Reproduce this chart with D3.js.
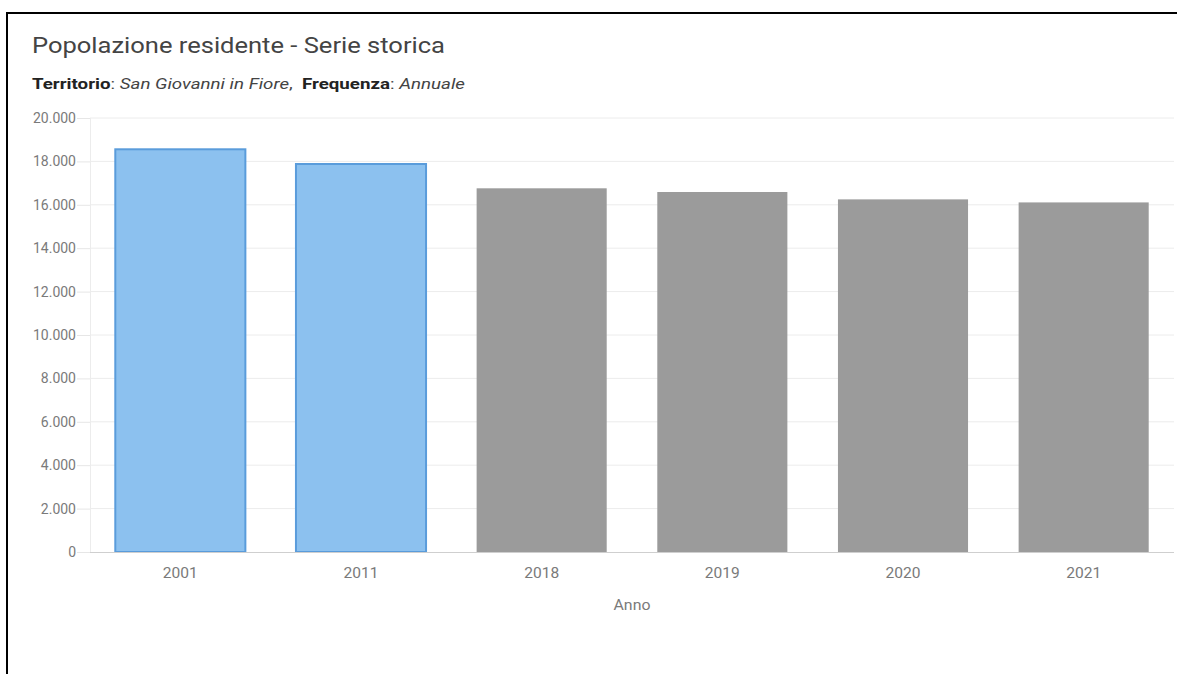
<!DOCTYPE html>
<html>
<head>
<meta charset="utf-8">
<script src="https://cdn.jsdelivr.net/npm/d3@7"></script>
<style>
  body { margin: 0; background: #fff; }
  svg { display: block; font-family: Roboto, "Noto Sans", sans-serif; }
</style>
</head>
<body>
<div id="grafico"></div>
<script>
// dati
var anni = ["2001", "2011", "2018", "2019", "2020", "2021"];
var popolazione = [18558, 17880, 16760, 16590, 16250, 16110];
var censimento = [true, true, false, false, false, false];
var tickValori = [0, 2000, 4000, 6000, 8000, 10000, 12000, 14000, 16000, 18000, 20000];

var width = 1177, height = 674;
var margine = { left: 90, right: 3, top: 118, bottom: 122 };

var svg = d3.select("#grafico").append("svg")
    .attr("width", width)
    .attr("height", height);

// cornice
svg.append("line").attr("x1", 6).attr("x2", width).attr("y1", 13).attr("y2", 13)
    .style("stroke", "#000").style("stroke-width", 2);
svg.append("line").attr("x1", 7).attr("x2", 7).attr("y1", 12).attr("y2", height)
    .style("stroke", "#000").style("stroke-width", 2);

// titolo
svg.append("text")
    .attr("x", 32).attr("y", 53)
    .attr("textLength", 413)
    .attr("lengthAdjust", "spacingAndGlyphs")
    .style("font-size", "22px")
    .style("fill", "#444")
    .text("Popolazione residente - Serie storica");

var sotto = svg.append("text")
    .attr("x", 32).attr("y", 89)
    .attr("textLength", 433)
    .attr("lengthAdjust", "spacingAndGlyphs")
    .style("font-size", "14px")
    .style("fill", "#444")
    .style("white-space", "pre");
sotto.append("tspan").style("font-weight", "bold").style("fill", "#222").text("Territorio");
sotto.append("tspan").text(": ");
sotto.append("tspan").style("font-style", "italic").text("San Giovanni in Fiore");
sotto.append("tspan").text(",  ");
sotto.append("tspan").style("font-weight", "bold").style("fill", "#222").text("Frequenza");
sotto.append("tspan").text(": ");
sotto.append("tspan").style("font-style", "italic").text("Annuale");

var x = d3.scaleBand()
    .domain(anni)
    .range([margine.left, width - margine.right])
    .paddingInner(0.28)
    .paddingOuter(0.14);

var y = d3.scaleLinear()
    .domain([0, 20000])
    .range([552, 118]);

var formato = d3.formatLocale({ decimal: ",", thousands: ".", grouping: [3], currency: ["€", ""] }).format(",d");

// griglia
svg.append("g").selectAll("line")
    .data(tickValori.slice(1))
    .enter().append("line")
    .attr("x1", margine.left)
    .attr("x2", width - margine.right)
    .attr("y1", function (d) { return y(d); })
    .attr("y2", function (d) { return y(d); })
    .style("stroke", "#ececec")
    .style("stroke-width", 1);

svg.append("line")
    .attr("x1", margine.left + 0.5).attr("x2", margine.left + 0.5)
    .attr("y1", y(20000)).attr("y2", y(0))
    .style("stroke", "#ececec");

// asse y
var assey = svg.append("g")
    .attr("transform", "translate(" + margine.left + ",0)")
    .call(d3.axisLeft(y).tickValues(tickValori).tickFormat(formato).tickSize(13).tickPadding(1));
assey.select(".domain").remove();
assey.selectAll(".tick line").style("stroke", "#e6e6e6");
assey.selectAll(".tick text")
    .style("font-size", "14px")
    .style("fill", "#7a7a7a")
    .style("font-family", "Roboto, sans-serif");

// barre
svg.append("g").selectAll("rect")
    .data(anni)
    .enter().append("rect")
    .attr("x", function (d) { return x(d); })
    .attr("y", function (d, i) { return y(popolazione[i]); })
    .attr("width", x.bandwidth())
    .attr("height", function (d, i) { return y(0) - y(popolazione[i]); })
    .style("fill", function (d, i) { return censimento[i] ? "#8cc1ef" : "#9b9b9b"; })
    .style("stroke", function (d, i) { return censimento[i] ? "#5a9cdb" : "none"; })
    .style("stroke-width", 2);

// linea base e asse x
svg.append("line")
    .attr("x1", margine.left).attr("x2", width - margine.right)
    .attr("y1", y(0) + 0.5).attr("y2", y(0) + 0.5)
    .style("stroke", "#cfcfcf");

var assex = svg.append("g")
    .attr("transform", "translate(0," + y(0) + ")")
    .call(d3.axisBottom(x).tickSize(0).tickPadding(15));
assex.select(".domain").remove();
assex.selectAll(".tick text")
    .attr("textLength", 35)
    .attr("lengthAdjust", "spacingAndGlyphs")
    .style("font-size", "15px")
    .style("fill", "#7a7a7a")
    .style("font-family", "Roboto, sans-serif");

svg.append("text")
    .attr("x", (margine.left + width - margine.right) / 2)
    .attr("y", 610)
    .attr("text-anchor", "middle")
    .attr("textLength", 37)
    .attr("lengthAdjust", "spacingAndGlyphs")
    .style("font-size", "14px")
    .style("fill", "#7a7a7a")
    .text("Anno");
</script>
</body>
</html>
